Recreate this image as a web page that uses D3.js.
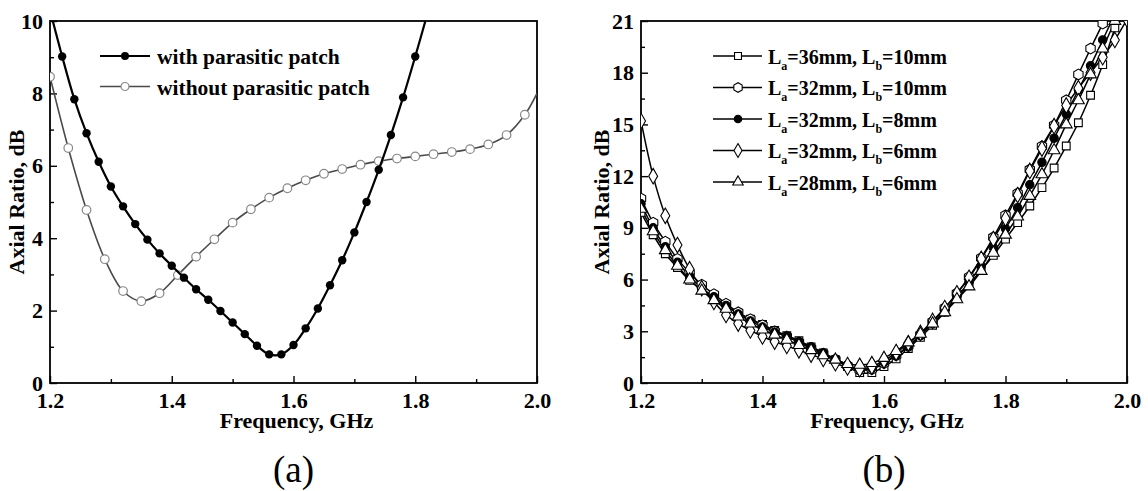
<!DOCTYPE html>
<html>
<head>
<meta charset="utf-8">
<script src="https://cdn.jsdelivr.net/npm/d3@7"></script>
<style>
  body { margin: 0; background: #fff; }
  svg text { font-family: "Liberation Serif", "Times New Roman", serif; font-weight: bold; fill: #000; }
  .tick text { font-size: 22px; }
  .tick line { stroke: #000; stroke-width: 1.4; }
  .axis-title { font-size: 22px; }
  .legend text { font-size: 20px; }
  .panel-tag { font-size: 37px; }
</style>
</head>
<body>
<svg id="chart" width="1148" height="491"></svg>
<script>
// ---- data: panel (a) ----
const freqTicks = [1.2, 1.4, 1.6, 1.8, 2.0];
const freqMinor = [1.3, 1.5, 1.7, 1.9];
const arTicksA = [0, 2, 4, 6, 8, 10];
const arMinorA = [1, 3, 5, 7, 9];

// with parasitic patch (first and last points run off the top of the frame)
const withFreq = [1.20, 1.22, 1.24, 1.26, 1.28, 1.30, 1.32, 1.34, 1.36, 1.38, 1.40, 1.42, 1.44, 1.46, 1.48,
  1.50, 1.52, 1.54, 1.56, 1.58, 1.60, 1.62, 1.64, 1.66, 1.68, 1.70, 1.72, 1.74, 1.76, 1.78, 1.80, 1.82];
const withAR = [10.3, 9.02, 7.84, 6.90, 6.11, 5.43, 4.88, 4.39, 3.96, 3.58, 3.24, 2.91, 2.59, 2.30, 1.99,
  1.67, 1.35, 1.03, 0.79, 0.79, 1.05, 1.51, 2.06, 2.70, 3.39, 4.16, 5.00, 5.89, 6.85, 7.89, 9.02, 10.2];

// without parasitic patch (last point is the line end, no marker)
const withoutFreq = [1.20, 1.23, 1.26, 1.29, 1.32, 1.35, 1.38, 1.41, 1.44, 1.47, 1.50, 1.53, 1.56, 1.59,
  1.62, 1.65, 1.68, 1.71, 1.74, 1.77, 1.80, 1.83, 1.86, 1.89, 1.92, 1.95, 1.98, 2.00];
const withoutAR = [8.46, 6.49, 4.78, 3.42, 2.54, 2.26, 2.48, 2.98, 3.49, 3.97, 4.43, 4.80, 5.12, 5.38,
  5.60, 5.78, 5.91, 6.03, 6.13, 6.20, 6.26, 6.32, 6.38, 6.46, 6.59, 6.85, 7.41, 8.00];

// ---- data: panel (b) ----
const arTicksB = [0, 3, 6, 9, 12, 15, 18, 21];
const arMinorB = [1.5, 4.5, 7.5, 10.5, 13.5, 16.5, 19.5];
const freqB = d3.range(41).map(i => +(1.2 + i * 0.02).toFixed(2));

const arLa36Lb10 = [9.9, 8.6, 7.5, 6.7, 5.95, 5.4, 4.9, 4.45, 4.05, 3.7, 3.4, 3.05, 2.75, 2.45, 2.1,
  1.75, 1.35, 0.95, 0.6, 0.6, 0.95, 1.4, 2.0, 2.65, 3.35, 4.1, 4.9, 5.7, 6.55, 7.4,
  8.35, 9.3, 10.27, 11.33, 12.47, 13.75, 15.1, 16.69, 18.47, 20.6, 22.8];
const arLa32Lb10 = [10.7, 9.3, 8.2, 7.2, 6.4, 5.7, 5.15, 4.6, 4.1, 3.7, 3.35, 3.0, 2.7, 2.35, 2.0,
  1.7, 1.35, 1.0, 0.75, 0.8, 1.15, 1.6, 2.15, 2.8, 3.55, 4.35, 5.2, 6.15, 7.25, 8.45,
  9.73, 11.0, 12.38, 13.73, 14.95, 16.4, 17.9, 19.4, 20.85, 22.3, 23.8];
const arLa32Lb8 = [10.4, 9.0, 7.9, 7.0, 6.2, 5.5, 5.0, 4.5, 4.0, 3.6, 3.25, 2.95, 2.7, 2.4, 2.1,
  1.75, 1.4, 1.05, 0.8, 0.85, 1.2, 1.6, 2.1, 2.75, 3.45, 4.2, 5.0, 5.85, 6.8, 7.85,
  8.95, 10.17, 11.5, 12.8, 14.2, 15.6, 17.0, 18.4, 19.9, 21.4, 22.9];
const arLa32Lb6 = [15.2, 12.0, 9.7, 8.0, 6.6, 5.5, 4.7, 3.95, 3.45, 3.05, 2.7, 2.4, 2.15, 1.9, 1.65,
  1.4, 1.15, 0.9, 0.8, 0.95, 1.3, 1.75, 2.3, 2.9, 3.6, 4.35, 5.2, 6.1, 7.2, 8.35,
  9.55, 10.9, 12.3, 13.6, 14.9, 16.1, 17.1, 18.0, 18.9, 19.9, 21.1];
const arLa28Lb6 = [10.1, 8.8, 7.7, 6.8, 6.0, 5.35, 4.8, 4.3, 3.85, 3.45, 3.1, 2.8, 2.5, 2.2, 1.9,
  1.6, 1.35, 1.1, 1.05, 1.15, 1.45, 1.85, 2.35, 2.85, 3.45, 4.1, 4.85, 5.6, 6.5, 7.55,
  8.6, 9.65, 10.85, 12.1, 13.5, 15.0, 16.4, 17.9, 19.4, 21.0, 22.6];

const legendB = [["36", "10"], ["32", "10"], ["32", "8"], ["32", "6"], ["28", "6"]];

// hexagon marker, d3 has none built in
const symbolHexagon = {
  draw(ctx, size) {
    const r = Math.sqrt(size / 2.598);
    for (let i = 0; i < 6; i++) {
      const a = Math.PI / 3 * i + Math.PI / 6;
      if (i) ctx.lineTo(r * Math.cos(a), r * Math.sin(a));
      else ctx.moveTo(r * Math.cos(a), r * Math.sin(a));
    }
    ctx.closePath();
  }
};

const seriesB = [
  {values: arLa36Lb10, symbol: d3.symbolSquare, size: 60, fill: "#fff"},
  {values: arLa32Lb10, symbol: symbolHexagon, size: 75, fill: "#fff"},
  {values: arLa32Lb8, symbol: d3.symbolCircle, size: 55, fill: "#000"},
  {values: arLa32Lb6, symbol: d3.symbolDiamond, size: 70, fill: "#fff"},
  {values: arLa28Lb6, symbol: d3.symbolTriangle, size: 60, fill: "#fff"}
];

const svg = d3.select("#chart");

function makePanel(id, left, top, width, height, yMax, yTicks, yMinor) {
  const g = svg.append("g").attr("transform", "translate(" + left + "," + top + ")");
  const x = d3.scaleLinear().domain([1.2, 2.0]).range([0, width]);
  const y = d3.scaleLinear().domain([0, yMax]).range([height, 0]);

  svg.append("defs").append("clipPath").attr("id", id)
    .append("rect").attr("width", width).attr("height", height);

  // minor ticks, pointing inward
  g.append("g").attr("transform", "translate(0," + height + ")")
    .call(d3.axisBottom(x).tickValues(freqMinor).tickSize(-4).tickFormat(""));
  g.append("g")
    .call(d3.axisLeft(y).tickValues(yMinor).tickSize(-4).tickFormat(""));

  // major ticks + labels
  g.append("g").attr("transform", "translate(0," + height + ")")
    .call(d3.axisBottom(x).tickValues(freqTicks).tickSizeInner(-7).tickSizeOuter(0)
      .tickPadding(9).tickFormat(d3.format(".1f")));
  g.append("g")
    .call(d3.axisLeft(y).tickValues(yTicks).tickSizeInner(-7).tickSizeOuter(0).tickPadding(7));

  g.selectAll(".domain").remove();
  g.selectAll("g").attr("font-family", null).attr("font-size", null);

  g.append("rect")
    .attr("width", width).attr("height", height)
    .attr("fill", "none").attr("stroke", "#000").attr("stroke-width", 1.8);

  const plot = g.append("g").attr("clip-path", "url(#" + id + ")");
  return {g, plot, x, y, width, height};
}

function axisTitles(p, tag, yTitleOffset) {
  p.g.append("text").attr("class", "axis-title")
    .attr("x", p.width / 2 + 3).attr("y", p.height + 45)
    .attr("text-anchor", "middle").text("Frequency, GHz");
  p.g.append("text").attr("class", "axis-title")
    .attr("transform", "rotate(-90)")
    .attr("x", -p.height / 2).attr("y", -yTitleOffset)
    .attr("text-anchor", "middle").text("Axial Ratio, dB");
  p.g.append("text").attr("class", "panel-tag")
    .attr("x", p.width / 2).attr("y", p.height + 99)
    .attr("text-anchor", "middle").style("font-weight", "normal").text(tag);
}

// ---------------- panel (a) ----------------
const pa = makePanel("clipA", 50, 21, 487, 362, 10, arTicksA, arMinorA);
axisTitles(pa, "(a)", 26);

const lineA = d3.line().curve(d3.curveCatmullRom)
  .x(d => pa.x(d[0])).y(d => pa.y(d[1]));

const withData = d3.zip(withFreq, withAR);
const withoutData = d3.zip(withoutFreq, withoutAR);

pa.plot.append("path").datum(withoutData)
  .attr("d", lineA).attr("fill", "none").attr("stroke", "#4a4a4a").attr("stroke-width", 1.6);
pa.plot.selectAll(".m-without").data(withoutData.slice(0, -1)).enter()
  .append("circle").attr("class", "m-without")
  .attr("cx", d => pa.x(d[0])).attr("cy", d => pa.y(d[1])).attr("r", 4.3)
  .attr("fill", "#fff").attr("stroke", "#888").attr("stroke-width", 1.2);

pa.plot.append("path").datum(withData)
  .attr("d", lineA).attr("fill", "none").attr("stroke", "#000").attr("stroke-width", 2.2);
pa.plot.selectAll(".m-with").data(withData).enter()
  .append("circle").attr("class", "m-with")
  .attr("cx", d => pa.x(d[0])).attr("cy", d => pa.y(d[1])).attr("r", 4.2)
  .attr("fill", "#000");

const legA = pa.g.append("g").attr("class", "legend").attr("transform", "translate(50,35)");
const legItemsA = [
  {text: "with parasitic patch", stroke: "#000", width: 2.2, fill: "#000", mstroke: "none"},
  {text: "without parasitic patch", stroke: "#4a4a4a", width: 1.6, fill: "#fff", mstroke: "#888"}
];
legItemsA.forEach((d, i) => {
  const row = legA.append("g").attr("transform", "translate(0," + (i * 30.5) + ")");
  row.append("line").attr("x1", 0).attr("x2", 50)
    .attr("stroke", d.stroke).attr("stroke-width", d.width);
  row.append("circle").attr("cx", 25).attr("r", 4)
    .attr("fill", d.fill).attr("stroke", d.mstroke).attr("stroke-width", 1.2);
  row.append("text").attr("x", 57).attr("dy", "0.38em").style("font-size", "21.5px").text(d.text);
});

// ---------------- panel (b) ----------------
const pb = makePanel("clipB", 641, 21, 486, 362, 21, arTicksB, arMinorB);
axisTitles(pb, "(b)", 32);

const lineB = d3.line().curve(d3.curveCatmullRom)
  .x(d => pb.x(d[0])).y(d => pb.y(d[1]));

seriesB.forEach(s => {
  const data = d3.zip(freqB, s.values);
  pb.plot.append("path").datum(data)
    .attr("d", lineB).attr("fill", "none").attr("stroke", "#000").attr("stroke-width", 1.5);
});
seriesB.forEach(s => {
  const data = d3.zip(freqB, s.values);
  pb.plot.append("g").selectAll("path").data(data).enter()
    .append("path")
    .attr("transform", d => "translate(" + pb.x(d[0]) + "," + pb.y(d[1]) + ")")
    .attr("d", d3.symbol().type(s.symbol).size(s.size))
    .attr("fill", s.fill).attr("stroke", "#000").attr("stroke-width", 1.1);
});

const legB = pb.g.append("g").attr("class", "legend").attr("transform", "translate(72,35)");
seriesB.forEach((s, i) => {
  const row = legB.append("g").attr("transform", "translate(0," + (i * 31.5) + ")");
  row.append("line").attr("x1", 0).attr("x2", 49).attr("stroke", "#000").attr("stroke-width", 1.5);
  row.append("path").attr("transform", "translate(25,0)")
    .attr("d", d3.symbol().type(s.symbol).size(s.size * 0.8))
    .attr("fill", s.fill).attr("stroke", "#000").attr("stroke-width", 1.1);
  const t = row.append("text").attr("x", 55).attr("dy", "0.38em");
  const [la, lb] = legendB[i];
  t.append("tspan").text("L");
  t.append("tspan").attr("dy", 6).style("font-size", "12px").text("a");
  t.append("tspan").attr("dy", -6).text("=" + la + "mm, L");
  t.append("tspan").attr("dy", 6).style("font-size", "12px").text("b");
  t.append("tspan").attr("dy", -6).text("=" + lb + "mm");
});
</script>
</body>
</html>
